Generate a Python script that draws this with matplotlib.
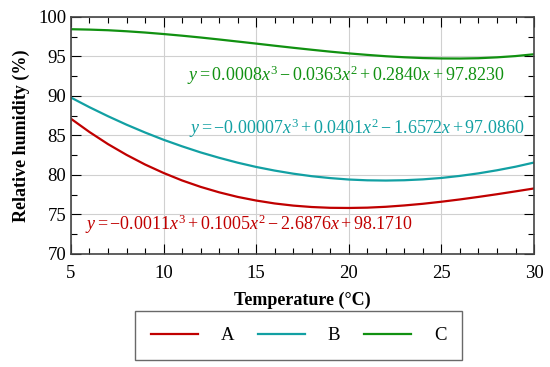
import matplotlib.pyplot as plt
from matplotlib.ticker import MultipleLocator

plt.rcParams['font.family'] = ['Liberation Serif', 'DejaVu Serif']
plt.rcParams['mathtext.fontset'] = 'custom'
plt.rcParams['mathtext.rm'] = 'Liberation Serif'
plt.rcParams['mathtext.it'] = 'Liberation Serif:italic'

# values, one per degree
temp = [5, 6, 7, 8, 9, 10, 11, 12, 13, 14, 15, 16, 17, 18, 19, 20,
        21, 22, 23, 24, 25, 26, 27, 28, 29, 30]
hum_a = [87.11, 85.43, 83.90, 82.54, 81.32, 80.25, 79.30, 78.49, 77.80, 77.22,
         76.76, 76.39, 76.12, 75.94, 75.84, 75.82, 75.86, 75.97, 76.14, 76.35,
         76.61, 76.90, 77.22, 77.56, 77.92, 78.29]
hum_b = [89.79, 88.57, 87.43, 86.36, 85.37, 84.45, 83.62, 82.85, 82.17, 81.55,
         81.01, 80.55, 80.16, 79.84, 79.60, 79.42, 79.32, 79.29, 79.33, 79.44,
         79.62, 79.88, 80.20, 80.59, 81.04, 81.57]
hum_c = [98.44, 98.39, 98.31, 98.18, 98.02, 97.83, 97.62, 97.39, 97.14, 96.88,
         96.62, 96.35, 96.09, 95.84, 95.60, 95.38, 95.19, 95.02, 94.89, 94.79,
         94.74, 94.73, 94.77, 94.88, 95.04, 95.27]
labels = ['A', 'B', 'C']
colors = ['#c00000', '#12a0a3', '#119111']
eqs = [r'$y = -0.0011x^3 + 0.1005x^2 - 2.6876x + 98.1710$',
       r'$y = -0.00007x^3 + 0.0401x^2 - 1.6572x + 97.0860$',
       r'$y = 0.0008x^3 - 0.0363x^2 + 0.2840x + 97.8230$']
eq_pos = [(5.75, 73.7), (11.35, 85.9), (11.25, 92.6)]

fig = plt.figure(figsize=(5.5, 3.67), dpi=100)
ax = fig.add_axes([0.129, 0.308, 0.842, 0.646])

for ys, lab, c in zip([hum_a, hum_b, hum_c], labels, colors):
    ax.plot(temp, ys, color=c, lw=1.6, label=lab)

for eq, (x, y), c in zip(eqs, eq_pos, colors):
    ax.text(x, y, eq, color=c, fontsize=13, va='center', ha='left')

ax.set_xlim(5, 30)
ax.set_ylim(70, 100)
ax.xaxis.set_major_locator(MultipleLocator(5))
ax.xaxis.set_minor_locator(MultipleLocator(1))
ax.yaxis.set_major_locator(MultipleLocator(5))
ax.yaxis.set_minor_locator(MultipleLocator(2.5))
ax.grid(True, which='major', color='#d0d0d0', lw=0.8)
ax.tick_params(which='both', direction='in', top=True, right=True, labelsize=13.5)
ax.tick_params(which='major', length=7, width=0.8)
ax.tick_params(which='minor', length=4, width=0.8)
ax.tick_params(axis='x', pad=8)
for s in ax.spines.values():
    s.set_color('#444444')
    s.set_linewidth(1.2)

ax.set_xlabel('Temperature (°C)', fontsize=13, fontweight='bold', labelpad=7)
ax.set_ylabel('Relative humidity (%)', fontsize=13, fontweight='bold', labelpad=6)

leg = fig.legend(loc='center', bbox_to_anchor=(0.543, 0.085), ncol=3, fontsize=13.5,
                 frameon=True, fancybox=False, edgecolor='#444444',
                 handlelength=2.5, columnspacing=1.3, handletextpad=1.2,
                 borderpad=0.85, borderaxespad=0)
leg.get_frame().set_linewidth(1.0)

fig.savefig('out.png', dpi=100)
